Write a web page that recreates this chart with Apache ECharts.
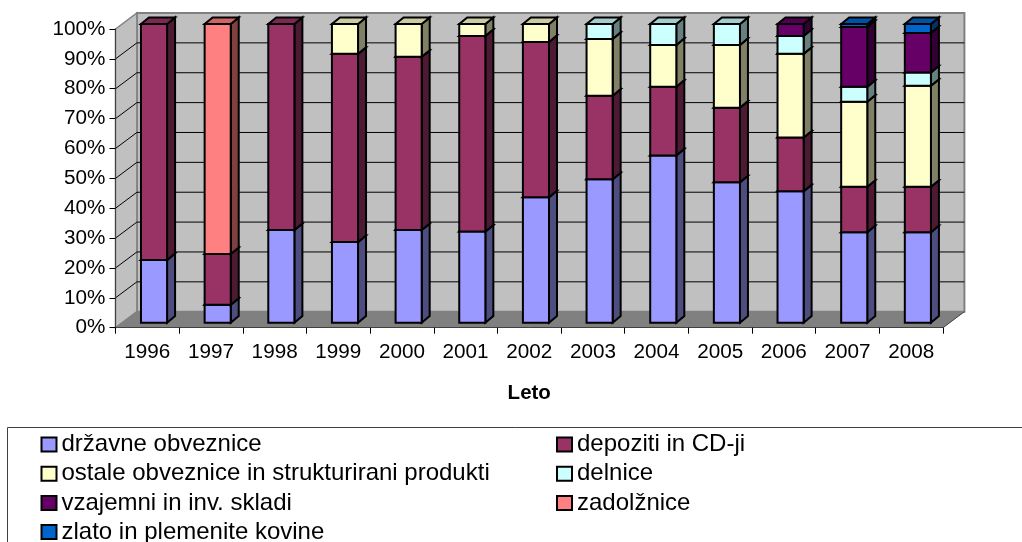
<!DOCTYPE html>
<html>
<head>
<meta charset="utf-8">
<style>
html, body { margin: 0; padding: 0; background: #fff; overflow: hidden; }
#main { width: 1022px; height: 542px; }
</style>
<script src="https://cdn.jsdelivr.net/npm/echarts@6/dist/echarts.min.js"></script>
</head>
<body>
<div id="main"></div>
<script>
var years = ['1996','1997','1998','1999','2000','2001','2002','2003','2004','2005','2006','2007','2008'];
var ticks = [0,10,20,30,40,50,60,70,80,90,100];

// shares, stacked from the bottom up
var drzavne   = [21, 6, 31, 27, 31, 30.5, 42, 48, 56, 47, 44, 30.3, 30.3];
var depoziti  = [79, 17, 69, 63, 58, 65.5, 52, 28, 23, 25, 18, 15.2, 15.2];
var ostale    = [0, 0, 0, 10, 11, 4, 6, 19, 14, 21, 28, 28.5, 33.8];
var delnice   = [0, 0, 0, 0, 0, 0, 0, 5, 7, 7, 6, 5, 4.5];
var vzajemni  = [0, 0, 0, 0, 0, 0, 0, 0, 0, 0, 4, 20, 13.2];
var zadolznice = [0, 77, 0, 0, 0, 0, 0, 0, 0, 0, 0, 0, 0];
var zlato     = [0, 0, 0, 0, 0, 0, 0, 0, 0, 0, 0, 1, 3];

var names = ['državne obveznice','depoziti in CD-ji','ostale obveznice in strukturirani produkti','delnice','vzajemni in inv. skladi','zadolžnice','zlato in plemenite kovine'];
var values = [drzavne, depoziti, ostale, delnice, vzajemni, zadolznice, zlato];
var colors = ['#9999FF','#993366','#FFFFCC','#CCFFFF','#660066','#FF8080','#0066CC'];

var FONT = '"Liberation Sans", Arial, sans-serif';
// depth of the 3d box and where the bars sit inside it
var wallDx = 21.4, wallDy = -16;
var barShiftX = 6.7, barShiftY = -5;
var barDx = 8, barDy = -6.6;

function shade(hex, k) {
    var n = parseInt(hex.slice(1), 16);
    return 'rgb(' + Math.round((n >> 16) * k) + ',' + Math.round(((n >> 8) & 255) * k) + ',' + Math.round((n & 255) * k) + ')';
}
function poly(pts, fill, stroke, lw) {
    return { type: 'polygon', shape: { points: pts }, style: { fill: fill, stroke: stroke, lineWidth: lw, lineJoin: 'miter' } };
}
function line(x1, y1, x2, y2, color, lw) {
    return { type: 'line', shape: { x1: x1, y1: y1, x2: x2, y2: y2 }, style: { stroke: color, lineWidth: lw, fill: null } };
}

function renderWalls(params, api) {
    var r = params.coordSys;
    var x0 = r.x, x1 = r.x + r.width;
    var v = api.value(0);
    var y = api.coord([0, v])[1];
    var kids = [];
    if (params.dataIndex === 0) {
        var yb = r.y + r.height, yt = r.y;
        kids.push(poly([[x0 + wallDx, yt + wallDy], [x1 + wallDx, yt + wallDy], [x1 + wallDx, yb + wallDy], [x0 + wallDx, yb + wallDy]], '#C0C0C0', '#808080', 2));
        kids.push(poly([[x0, yt], [x0 + wallDx, yt + wallDy], [x0 + wallDx, yb + wallDy], [x0, yb]], '#C0C0C0', '#808080', 1.5));
        kids.push(poly([[x0, yb], [x1, yb], [x1 + wallDx, yb + wallDy], [x0 + wallDx, yb + wallDy]], '#808080', null, 0));
        kids.push(line(x1, yb, x1 + wallDx, yb + wallDy, '#404040', 1));
    } else if (v < 100) {
        kids.push(line(x0, y, x0 + wallDx, y + wallDy, '#000', 1));
        kids.push(line(x0 + wallDx, y + wallDy, x1 + wallDx, y + wallDy, '#000', 1));
    }
    return { type: 'group', children: kids };
}

function makeRender(color) {
    var side = shade(color, 0.5);
    var top = shade(color, 0.8);
    return function (params, api) {
        var lo = api.coord([api.value(0), api.value(1)]);
        var hi = api.coord([api.value(0), api.value(2)]);
        var w = api.size([1, 0])[0] * 0.41;
        var xa = lo[0] - w / 2 + barShiftX, xb = xa + w;
        var yl = lo[1] + barShiftY, yh = hi[1] + barShiftY;
        return { type: 'group', children: [
            poly([[xb, yl], [xb + barDx, yl + barDy], [xb + barDx, yh + barDy], [xb, yh]], side, '#000', 2),
            poly([[xa, yh], [xb, yh], [xb + barDx, yh + barDy], [xa + barDx, yh + barDy]], top, '#000', 2),
            poly([[xa, yl], [xb, yl], [xb, yh], [xa, yh]], color, '#000', 2)
        ] };
    };
}

var series = [{
    type: 'custom',
    name: 'walls',
    silent: true,
    clip: false,
    z: 1,
    data: ticks.map(function (t) { return [t]; }),
    encode: { y: 0 },
    renderItem: renderWalls
}];

var base = years.map(function () { return 0; });
for (var s = 0; s < values.length; s++) {
    var rows = [];
    for (var i = 0; i < years.length; i++) {
        var val = values[s][i];
        if (val > 0) {
            rows.push([i, base[i], base[i] + val]);
            base[i] += val;
        }
    }
    series.push({
        type: 'custom',
        name: names[s],
        clip: false,
        z: 2,
        itemStyle: { color: colors[s] },
        data: rows,
        encode: { x: 0, y: [1, 2] },
        renderItem: makeRender(colors[s])
    });
}

function legendPart(left, items) {
    return {
        orient: 'vertical',
        left: left,
        top: 432.5,
        height: 300,
        padding: 0,
        itemWidth: 15,
        itemHeight: 14,
        itemGap: 5.2,
        selectedMode: false,
        icon: 'rect',
        data: items,
        itemStyle: { borderColor: '#000', borderWidth: 2 },
        textStyle: { fontFamily: FONT, fontSize: 24, color: '#000', padding: [0, 0, 0, 0] }
    };
}

var option = {
    animation: false,
    backgroundColor: '#fff',
    textStyle: { fontFamily: FONT },
    grid: { left: 115.5, right: 79, top: 29, bottom: 214.3 },
    xAxis: {
        type: 'category',
        data: years,
        z: 5,
        name: 'Leto',
        nameLocation: 'middle',
        nameGap: 55,
        nameTextStyle: { fontFamily: FONT, fontSize: 20.5, fontWeight: 'bold', color: '#000' },
        axisLine: { lineStyle: { color: '#404040', width: 1 } },
        axisTick: { show: true, length: 6, lineStyle: { color: '#000', width: 1 } },
        axisLabel: { interval: 0, margin: 14, fontFamily: FONT, fontSize: 20.7, color: '#000' }
    },
    yAxis: {
        type: 'value',
        min: 0,
        max: 100,
        interval: 10,
        z: 5,
        axisLine: { show: true, lineStyle: { color: '#404040', width: 1 } },
        axisTick: { show: true, length: 6, lineStyle: { color: '#000', width: 1 } },
        splitLine: { show: false },
        axisLabel: { margin: 10, fontFamily: FONT, fontSize: 20.7, color: '#000', formatter: '{value}%' }
    },
    legend: [
        legendPart(40.5, [names[0], names[2], names[4], names[6]]),
        legendPart(556, [names[1], names[3], names[5]])
    ],
    graphic: [{
        type: 'rect',
        silent: true,
        shape: { x: 7.5, y: 427.5, width: 1100, height: 200 },
        style: { fill: null, stroke: '#404040', lineWidth: 1 }
    }],
    series: series
};

var chart = echarts.init(document.getElementById('main'), null, { renderer: 'canvas' });
chart.setOption(option);
</script>
</body>
</html>
